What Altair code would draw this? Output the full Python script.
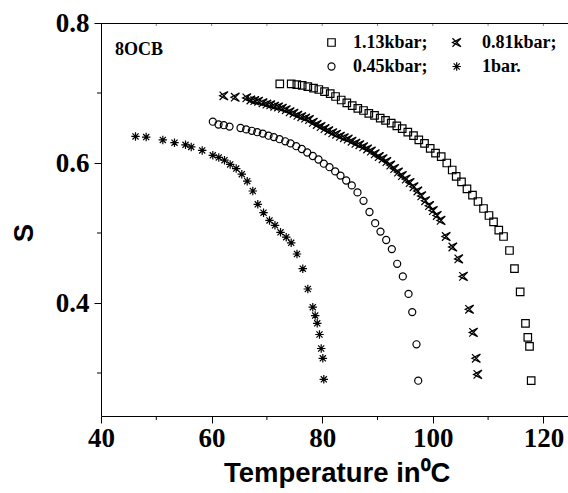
import altair as alt
import pandas as pd

# ---- data ----
t_113 = [72.33, 74.39, 75.41, 76.38, 77.40, 78.43, 79.39, 80.42, 81.45, 82.41,
         83.44, 84.45, 85.43, 86.44, 87.47, 88.43, 89.46, 90.49, 91.45, 92.48,
         93.49, 94.47, 95.48, 96.51, 97.47, 98.50, 99.53, 100.49, 101.52, 102.53,
         103.51, 104.23, 105.19, 106.18, 107.18, 108.17, 109.17, 110.16, 110.98, 111.93,
         112.79, 113.87, 114.77, 115.80, 116.76, 117.18, 117.49, 117.79]
s_113 = [0.713, 0.713, 0.712, 0.711, 0.709, 0.707, 0.705, 0.702, 0.699, 0.695,
         0.690, 0.686, 0.682, 0.678, 0.675, 0.671, 0.668, 0.664, 0.661, 0.657,
         0.653, 0.649, 0.644, 0.639, 0.633, 0.628, 0.621, 0.614, 0.609, 0.600,
         0.590, 0.581, 0.573, 0.563, 0.554, 0.545, 0.535, 0.525, 0.516, 0.504,
         0.495, 0.475, 0.449, 0.416, 0.371, 0.351, 0.338, 0.289]

t_081 = [62.21, 64.27, 66.37, 67.1, 67.8, 68.5, 69.3, 70.0, 70.7, 71.4, 72.1, 72.8,
         73.5, 74.2, 74.9, 75.6, 76.3, 77.0, 77.7, 78.4, 79.1, 79.8, 80.5, 81.2,
         81.9, 82.6, 83.3, 84.0, 84.7, 85.4, 86.1, 86.8, 87.5, 88.2, 88.9, 89.6,
         90.3, 91.0, 91.7, 92.4, 93.1, 93.8, 94.5, 95.2, 95.9, 96.6, 97.3, 98.0,
         98.7, 99.4, 100.1, 100.8, 101.5, 102.42, 103.62, 104.70, 105.55, 106.64,
         107.36, 107.85, 108.14]
s_081 = [0.696, 0.694, 0.693, 0.690, 0.689, 0.688, 0.686, 0.684, 0.683, 0.681, 0.680, 0.678,
         0.676, 0.673, 0.671, 0.668, 0.666, 0.664, 0.662, 0.658, 0.655, 0.652, 0.649, 0.646,
         0.643, 0.641, 0.638, 0.636, 0.634, 0.631, 0.628, 0.626, 0.623, 0.620, 0.617, 0.613,
         0.609, 0.606, 0.602, 0.597, 0.592, 0.587, 0.582, 0.577, 0.572, 0.566, 0.560, 0.553,
         0.546, 0.539, 0.532, 0.525, 0.518, 0.495, 0.480, 0.463, 0.438, 0.391,
         0.358, 0.321, 0.298]

t_045 = [60.22, 61.25, 62.21, 63.24, 65.23, 66.26, 67.27, 68.25, 69.26, 70.29,
         71.25, 72.28, 73.31, 74.27, 75.30, 76.31, 77.29, 78.30, 79.33, 80.29,
         81.32, 82.35, 83.31, 84.34, 85.35, 86.38, 87.47, 88.55, 89.58, 90.54,
         91.57, 92.59, 93.56, 94.58, 95.61, 96.28, 97.05, 97.36]
s_045 = [0.659, 0.655, 0.654, 0.652, 0.650, 0.648, 0.646, 0.644, 0.642, 0.639,
         0.637, 0.634, 0.631, 0.628, 0.624, 0.620, 0.615, 0.610, 0.605, 0.599,
         0.594, 0.588, 0.582, 0.575, 0.568, 0.558, 0.546, 0.530, 0.514, 0.502,
         0.490, 0.477, 0.456, 0.438, 0.413, 0.387, 0.341, 0.289]

t_1bar = [46.24, 48.17, 51.18, 53.29, 55.28, 56.31, 58.30, 60.22, 61.30, 62.33,
          63.36, 64.45, 65.46, 66.44, 67.45, 68.35, 69.39, 70.47, 71.46, 72.46,
          73.49, 74.39, 75.44, 76.49, 77.40, 78.30, 78.73, 79.10, 79.51, 79.82,
          80.11, 80.29]
s_1bar = [0.638, 0.637, 0.633, 0.629, 0.626, 0.623, 0.618, 0.611, 0.608, 0.604,
          0.598, 0.592, 0.584, 0.574, 0.560, 0.541, 0.529, 0.518, 0.511, 0.501,
          0.494, 0.486, 0.470, 0.449, 0.420, 0.394, 0.382, 0.371, 0.355, 0.335,
          0.321, 0.291]

series_labels = ["1.13kbar;", "0.81kbar;", "0.45kbar;", "1bar."]
x_title = "Temperature in\u2070C"
y_title = "S"
x_major = [40, 60, 80, 100, 120]
x_minor = [50, 70, 90, 110]
x_top = [50, 60, 70, 80, 90, 100, 110, 120]
y_major = [0.4, 0.6, 0.8]
y_minor = [0.3, 0.5, 0.7]

# ---- layout / style ----
W, H = 467, 393
X_DOM = [40, 40 + W / 5.53]
Y_DOM = [0.8 - H / 700.0, 0.8]
SERIF = "Liberation Serif"
SANS = "Liberation Sans"

SQUARE = "square"
CIRCLE = "circle"
CROSS_TRI = "M-1,-1L1,1M-1,1L1,-1M1,-1L-1,0L1,1"
ASTER = "M0,-1L0,1M-1,0L1,0M-0.72,-0.72L0.72,0.72M-0.72,0.72L0.72,-0.72"
SW = 1.2

xs = alt.Scale(domain=X_DOM, nice=False, zero=False)
ys = alt.Scale(domain=Y_DOM, nice=False, zero=False)

xaxis = alt.Axis(values=x_major, format="d", title=None, grid=False, tickSize=7,
                 tickColor="black", domainColor="black", labelColor="black",
                 labelFont=SERIF, labelFontWeight="bold", labelFontSize=27,
                 labelPadding=2, labelFlush=False, labelOverlap=False)
yaxis = alt.Axis(values=y_major, format=".1f", title=None, grid=False, tickSize=7,
                 tickColor="black", domainColor="black", labelColor="black",
                 labelFont=SERIF, labelFontWeight="bold", labelFontSize=27,
                 labelPadding=5, labelFlush=False, labelOverlap=False)

def series_layer(t, s, shape, size):
    df = pd.DataFrame({"T": t, "S": s})
    return alt.Chart(df).mark_point(shape=shape, size=size, filled=False,
                                    stroke="black", strokeWidth=SW, opacity=1).encode(
        x=alt.X("T:Q", scale=xs, axis=xaxis),
        y=alt.Y("S:Q", scale=ys, axis=yaxis),
    )

one = pd.DataFrame({"a": [0]})

def text_at(txt, x, y, font, size, align="left", baseline="alphabetic", angle=0):
    kw = dict(text=txt, font=font, fontWeight="bold", fontSize=size, align=align,
              baseline=baseline, color="black")
    if angle:
        kw["angle"] = angle
    return alt.Chart(one).mark_text(**kw).encode(x=alt.value(x), y=alt.value(y))

def sym_at(shape, size, x, y):
    return alt.Chart(one).mark_point(shape=shape, size=size, filled=False, stroke="black",
                                     strokeWidth=SW, opacity=1).encode(
        x=alt.value(x), y=alt.value(y))

SZ_SQ, SZ_CR, SZ_CI, SZ_AS = 56, 72, 50, 72

layers = [
    series_layer(t_113, s_113, SQUARE, SZ_SQ),
    series_layer(t_081, s_081, CROSS_TRI, SZ_CR),
    series_layer(t_045, s_045, CIRCLE, SZ_CI),
    series_layer(t_1bar, s_1bar, ASTER, SZ_AS),
]

# minor ticks and top frame
layers.append(alt.Chart(pd.DataFrame({"v": x_minor})).mark_rule(color="black", strokeWidth=1).encode(
    x=alt.X("v:Q", scale=xs), y=alt.value(H), y2=alt.value(H + 4)))
layers.append(alt.Chart(pd.DataFrame({"v": x_top})).mark_rule(color="#888", strokeWidth=1).encode(
    x=alt.X("v:Q", scale=xs), y=alt.value(0), y2=alt.value(3)))
layers.append(alt.Chart(pd.DataFrame({"v": y_minor})).mark_rule(color="black", strokeWidth=1).encode(
    y=alt.Y("v:Q", scale=ys), x=alt.value(-4), x2=alt.value(0)))
layers.append(alt.Chart(one).mark_rule(color="black", strokeWidth=1).encode(
    x=alt.value(0), x2=alt.value(W), y=alt.value(0.5)))

# legend & labels
layers += [
    text_at("8OCB", 14, 32, SERIF, 18),
    sym_at(SQUARE, SZ_SQ, 230.5, 19.5),
    text_at(series_labels[0], 252, 25, SERIF, 18),
    sym_at(CROSS_TRI, SZ_CR, 355.7, 19.5),
    text_at(series_labels[1], 381, 25, SERIF, 18),
    sym_at(CIRCLE, SZ_CI, 230.5, 43.5),
    text_at(series_labels[2], 252, 49, SERIF, 18),
    sym_at(ASTER, SZ_AS, 355.7, 43.5),
    text_at(series_labels[3], 381, 49, SERIF, 18),
    text_at(x_title, 123, 459, SANS, 27.5),
    text_at(y_title, -76, 210, SANS, 27.5, align="center", baseline="middle", angle=270),
]

chart = alt.layer(*layers).properties(
    width=W, height=H,
    autosize=alt.AutoSizeParams(type="none"),
    padding={"left": 101, "top": 23, "right": 0, "bottom": 77},
    background="white",
).configure_view(stroke=None)

chart.save("out.html", embed_options={"renderer": "svg", "actions": False})
